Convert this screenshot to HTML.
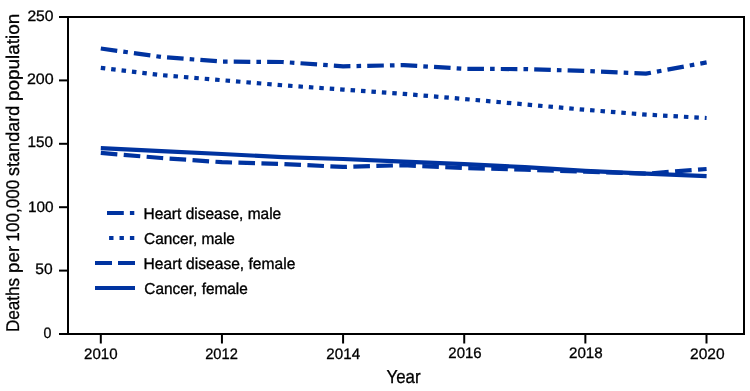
<!DOCTYPE html>
<html><head><meta charset="utf-8"><style>
html,body{margin:0;padding:0;background:#fff;width:750px;height:391px;overflow:hidden}
svg{display:block;will-change:transform}
text{font-family:"Liberation Sans",sans-serif}
</style></head><body>
<svg width="750" height="391" viewBox="0 0 750 391">
<rect x="0" y="0" width="750" height="391" fill="#fff"/>
<g stroke="#000" stroke-width="2" fill="none">
<rect x="68" y="17" width="676" height="317"/>
<line x1="59" y1="17" x2="68" y2="17"/><line x1="59" y1="80.4" x2="68" y2="80.4"/><line x1="59" y1="143.8" x2="68" y2="143.8"/><line x1="59" y1="207.2" x2="68" y2="207.2"/><line x1="59" y1="270.6" x2="68" y2="270.6"/><line x1="59" y1="334" x2="68" y2="334"/><line x1="100.80" y1="334" x2="100.80" y2="343.5"/><line x1="221.94" y1="334" x2="221.94" y2="343.5"/><line x1="343.08" y1="334" x2="343.08" y2="343.5"/><line x1="464.22" y1="334" x2="464.22" y2="343.5"/><line x1="585.36" y1="334" x2="585.36" y2="343.5"/><line x1="706.50" y1="334" x2="706.50" y2="343.5"/>
</g>
<g fill="#000">
<text transform="translate(27.38,20.68) skewX(0.05)" font-size="15.20" textLength="26.18" lengthAdjust="spacingAndGlyphs" stroke="#000" stroke-width="0.3">250</text>
<text transform="translate(26.94,84.49) skewX(0.05)" font-size="15.20" textLength="26.79" lengthAdjust="spacingAndGlyphs" stroke="#000" stroke-width="0.3">200</text>
<text transform="translate(27.51,147.36) skewX(0.05)" font-size="15.20" textLength="25.55" lengthAdjust="spacingAndGlyphs" stroke="#000" stroke-width="0.3">150</text>
<text transform="translate(27.90,211.63) skewX(0.05)" font-size="15.20" textLength="25.65" lengthAdjust="spacingAndGlyphs" stroke="#000" stroke-width="0.3">100</text>
<text transform="translate(35.37,274.33) skewX(0.05)" font-size="15.20" textLength="17.33" lengthAdjust="spacingAndGlyphs" stroke="#000" stroke-width="0.3">50</text>
<text transform="translate(43.42,338.45) skewX(0.05)" font-size="15.20" textLength="7.89" lengthAdjust="spacingAndGlyphs" stroke="#000" stroke-width="0.3">0</text>
<text transform="translate(84.04,358.75) skewX(0.05)" font-size="15.20" textLength="33.54" lengthAdjust="spacingAndGlyphs" stroke="#000" stroke-width="0.3">2010</text>
<text transform="translate(205.14,358.54) skewX(0.05)" font-size="15.20" textLength="32.69" lengthAdjust="spacingAndGlyphs" stroke="#000" stroke-width="0.3">2012</text>
<text transform="translate(326.36,358.74) skewX(0.05)" font-size="15.20" textLength="33.74" lengthAdjust="spacingAndGlyphs" stroke="#000" stroke-width="0.3">2014</text>
<text transform="translate(448.29,358.35) skewX(0.05)" font-size="15.20" textLength="33.36" lengthAdjust="spacingAndGlyphs" stroke="#000" stroke-width="0.3">2016</text>
<text transform="translate(568.99,358.49) skewX(0.05)" font-size="15.20" textLength="33.77" lengthAdjust="spacingAndGlyphs" stroke="#000" stroke-width="0.3">2018</text>
<text transform="translate(689.99,358.50) skewX(0.05)" font-size="15.20" textLength="34.57" lengthAdjust="spacingAndGlyphs" stroke="#000" stroke-width="0.3">2020</text>
<text transform="translate(386.45,382.63) skewX(0.05)" font-size="18.80" textLength="34.14" lengthAdjust="spacingAndGlyphs" stroke="#000" stroke-width="0.3">Year</text>
<text transform="translate(143.46,218.90) skewX(0.05)" font-size="15.80" textLength="137.75" lengthAdjust="spacingAndGlyphs" stroke="#000" stroke-width="0.35">Heart disease, male</text>
<text transform="translate(144.07,243.90) skewX(0.05)" font-size="15.80" textLength="90.83" lengthAdjust="spacingAndGlyphs" stroke="#000" stroke-width="0.35">Cancer, male</text>
<text transform="translate(143.59,268.90) skewX(0.05)" font-size="15.80" textLength="151.78" lengthAdjust="spacingAndGlyphs" stroke="#000" stroke-width="0.35">Heart disease, female</text>
<text transform="translate(144.34,293.90) skewX(0.05)" font-size="15.80" textLength="103.52" lengthAdjust="spacingAndGlyphs" stroke="#000" stroke-width="0.35">Cancer, female</text>
<text transform="translate(18.60,332.04) rotate(-90) skewX(0.05)" x="0" y="0" font-size="18.40" textLength="54.18" lengthAdjust="spacingAndGlyphs" stroke="#000" stroke-width="0.3">Deaths</text><text transform="translate(18.60,272.93) rotate(-90) skewX(0.05)" x="0" y="0" font-size="18.40" textLength="27.12" lengthAdjust="spacingAndGlyphs" stroke="#000" stroke-width="0.3">per</text><text transform="translate(18.60,241.63) rotate(-90) skewX(0.05)" x="0" y="0" font-size="18.40" textLength="61.96" lengthAdjust="spacingAndGlyphs" stroke="#000" stroke-width="0.3">100,000</text><text transform="translate(18.60,175.91) rotate(-90) skewX(0.05)" x="0" y="0" font-size="18.40" textLength="70.09" lengthAdjust="spacingAndGlyphs" stroke="#000" stroke-width="0.3">standard</text><text transform="translate(18.60,101.08) rotate(-90) skewX(0.05)" x="0" y="0" font-size="18.40" textLength="87.48" lengthAdjust="spacingAndGlyphs" stroke="#000" stroke-width="0.3">population</text>
</g>
<g fill="none" stroke="#0033a0" stroke-width="4.2" stroke-linejoin="miter" stroke-linecap="butt">
<polyline points="100.8,48.5 161.4,57.0 222.0,61.6 282.5,62.0 343.1,66.3 403.7,65.1 464.3,68.8 524.9,69.1 585.4,71.0 646.0,73.6 706.6,62.4" stroke-dasharray="16.6 6.1 4.6 6.12"/>
<polyline points="100.8,67.9 161.4,75.1 222.0,80.2 282.5,85.3 343.1,89.6 403.7,93.9 464.3,99.0 524.9,104.4 585.4,109.8 646.0,114.6 706.6,118.0" stroke-dasharray="4.5 5.95"/>
<polyline points="100.8,152.9 161.4,158.0 222.0,162.2 282.5,164.0 343.1,166.9 403.7,165.2 464.3,168.1 524.9,169.6 585.4,171.7 646.0,173.7 706.6,169.0" stroke-dasharray="16.6 6.4"/>
<polyline points="100.8,148.2 161.4,151.1 222.0,154.0 282.5,157.1 343.1,159.0 403.7,161.7 464.3,164.1 524.9,167.1 585.4,170.9 646.0,173.7 706.6,176.2"/>
<line x1="107" y1="213" x2="134.3" y2="213" stroke-dasharray="16.8 6.1 4.4 10"/>
<line x1="109.1" y1="238" x2="134.3" y2="238" stroke-dasharray="4.4 6"/>
<line x1="95" y1="263" x2="135" y2="263" stroke-dasharray="17 6 17 10"/>
<line x1="95" y1="288" x2="135" y2="288"/>
</g>
</svg>
</body></html>
